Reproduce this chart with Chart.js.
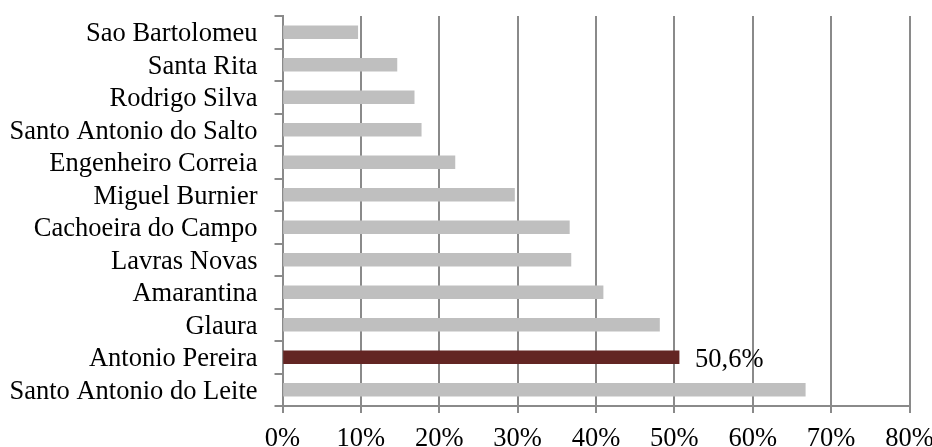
<!DOCTYPE html>
<html>
<head>
<meta charset="utf-8">
<script src="https://cdn.jsdelivr.net/npm/chart.js@4"></script>
<style>
  html, body { margin: 0; padding: 0; background: #fff; }
  #wrap { width: 932px; height: 447px; }
</style>
</head>
<body>
<div id="wrap"><canvas id="chart1" width="932" height="447"></canvas></div>
<script>
// districts, top to bottom
var label_array = ["Sao Bartolomeu", "Santa Rita", "Rodrigo Silva", "Santo Antonio do Salto",
  "Engenheiro Correia", "Miguel Burnier", "Cachoeira do Campo", "Lavras Novas",
  "Amarantina", "Glaura", "Antonio Pereira", "Santo Antonio do Leite"];
// share in percent
var data_array = [9.6, 14.6, 16.8, 17.7, 22.0, 29.6, 36.6, 36.8, 40.9, 48.1, 50.6, 66.7];
var highlight = "Antonio Pereira";
var x_ticks = [0, 10, 20, 30, 40, 50, 60, 70, 80];

var fontFace = "'Liberation Serif', 'Times New Roman', serif";
var gridColor = "#8a8a8a";

var barColors = label_array.map(function (l) { return l === highlight ? "#632523" : "#bfbfbf"; });

// value label next to the highlighted bar
var valueLabel = {
  id: 'valueLabel',
  afterDatasetsDraw: function (chart) {
    var i = label_array.indexOf(highlight);
    var bar = chart.getDatasetMeta(0).data[i];
    var ctx = chart.ctx;
    ctx.save();
    ctx.font = "26.5px " + fontFace;
    ctx.fillStyle = "#000";
    ctx.textAlign = "left";
    ctx.textBaseline = "middle";
    ctx.fillText(data_array[i].toFixed(1).replace('.', ',') + "%", bar.x + 16, bar.y + 3);
    ctx.restore();
  }
};

var ctx = document.getElementById("chart1").getContext('2d');
var myChart = new Chart(ctx, {
  type: 'bar',
  data: {
    labels: label_array,
    datasets: [{
      data: data_array,
      backgroundColor: barColors,
      borderWidth: 0,
      barThickness: 13
    }]
  },
  options: {
    responsive: false,
    animation: false,
    indexAxis: 'y',
    layout: { padding: { top: 16, right: 22.5, left: 0, bottom: 0 } },
    plugins: {
      legend: { display: false },
      tooltip: { enabled: false }
    },
    scales: {
      x: {
        min: 0,
        max: 80,
        afterBuildTicks: function (axis) {
          axis.ticks = x_ticks.map(function (v) { return { value: v }; });
        },
        afterFit: function (axis) {
          axis.height = 41;
          axis.paddingLeft = 0;
          axis.paddingRight = 0;
        },
        grid: { color: gridColor, lineWidth: 2, tickLength: 7 },
        border: { color: gridColor, width: 2 },
        ticks: {
          color: "#000",
          padding: 10,
          maxRotation: 0,
          font: { family: fontFace, size: 26.5 },
          callback: function (v) { return v + "%"; }
        }
      },
      y: {
        afterFit: function (axis) {
          axis.width = 282.5;
          axis.paddingTop = 0;
          axis.paddingBottom = 0;
        },
        grid: { drawOnChartArea: false, color: gridColor, lineWidth: 2, tickLength: 8, offset: true },
        border: { color: gridColor, width: 2 },
        ticks: {
          color: "#000",
          padding: 17,
          labelOffset: 2,
          autoSkip: false,
          font: { family: fontFace, size: 26.5 }
        }
      }
    }
  },
  plugins: [valueLabel]
});
</script>
</body>
</html>
